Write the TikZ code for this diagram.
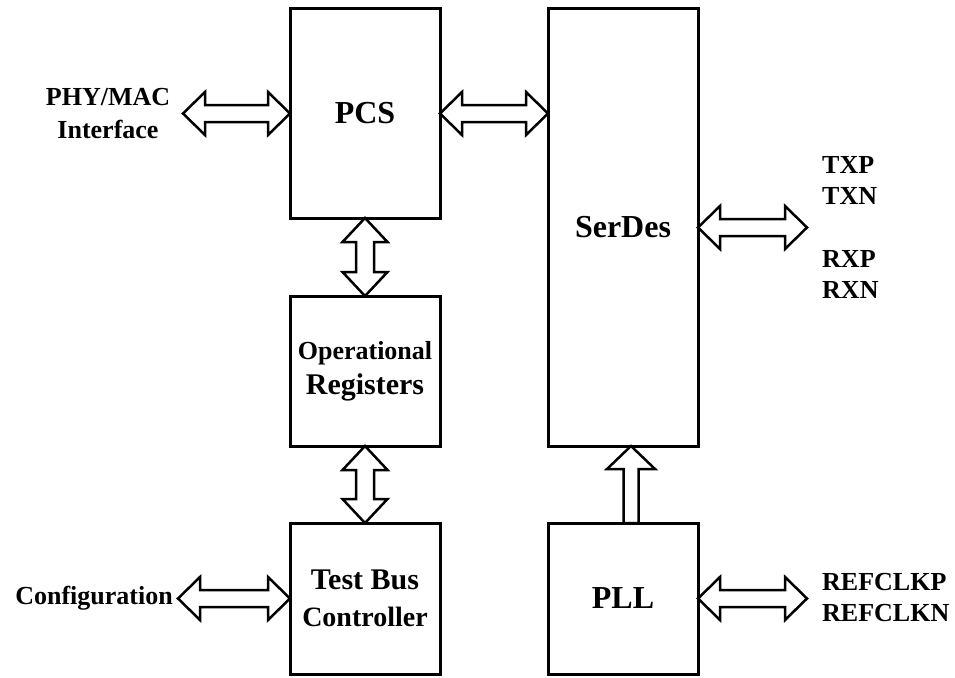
\documentclass[tikz,border=0pt]{standalone}
\usepackage{fontspec}
\setmainfont{Liberation Serif}
\usetikzlibrary{calc}
\pgfdeclarelayer{bg}
\pgfsetlayers{bg,main}
\newcommand{\fsz}[2]{\fontsize{#1}{#2}\selectfont}
% horizontal double block arrow: #1 left tip, #2 right tip
\newcommand{\harrow}[2]{%
  \draw[blockarr] let \p1=#1, \p2=#2 in
    (\x1,\y1) -- (\x1+22pt,\y1+21.5pt) -- (\x1+22pt,\y1+8.5pt) -- (\x2-22pt,\y1+8.5pt)
    -- (\x2-22pt,\y1+21.5pt) -- (\x2,\y1) -- (\x2-22pt,\y1-21.5pt) -- (\x2-22pt,\y1-8.5pt)
    -- (\x1+22pt,\y1-8.5pt) -- (\x1+22pt,\y1-21.5pt) -- cycle;}
% vertical double block arrow: #1 top tip, #2 bottom tip
\newcommand{\varrow}[2]{%
  \draw[blockarr] let \p1=#1, \p2=#2 in
    (\x1,\y1) -- (\x1+22.5pt,\y1-24pt) -- (\x1+9pt,\y1-24pt) -- (\x1+9pt,\y2+24pt)
    -- (\x1+22.5pt,\y2+24pt) -- (\x1,\y2) -- (\x1-22.5pt,\y2+24pt) -- (\x1-9pt,\y2+24pt)
    -- (\x1-9pt,\y1-24pt) -- (\x1-22.5pt,\y1-24pt) -- cycle;}
% single up block arrow: #1 bottom, #2 top tip
\newcommand{\uarrow}[2]{%
  \draw[blockarr] let \p1=#1, \p2=#2 in
    (\x2,\y2) -- (\x2+24pt,\y2-23pt) -- (\x2+7.5pt,\y2-23pt) -- (\x2+7.5pt,\y1)
    -- (\x2-7.5pt,\y1) -- (\x2-7.5pt,\y2-23pt) -- (\x2-24pt,\y2-23pt) -- cycle;}
\begin{document}
\begin{tikzpicture}[x=1pt,y=-1pt,
  box/.style={draw,line width=3pt,inner sep=0pt,outer sep=0pt,minimum width=150pt,align=center,font=\bfseries},
  blockarr/.style={draw,line width=2.5pt,fill=white,line join=miter},
  lbl/.style={inner sep=0pt,align=center,font=\bfseries\fsz{26}{31}}]
\begin{pgfonlayer}{bg}
\fill[white] (0,0) rectangle (955,677);
\end{pgfonlayer}
\useasboundingbox (0,0) rectangle (955,677);

\node[box,minimum height=209pt,font=\bfseries\fsz{32}{38}] (pcs) at (365,113.5) {PCS};
\node[box,minimum height=437pt,font=\bfseries\fsz{32}{38}] (serdes) at (623,227.5) {SerDes};
\node[box,minimum height=150pt,font=\bfseries\fsz{30}{35}] (opreg) at (365,371) {\fsz{26}{35}Operational\\Registers};
\node[box,minimum height=151pt,font=\bfseries\fsz{28}{37}] (tbc) at (365,598.5) {\fsz{30}{37}Test Bus\\Controller};
\node[box,minimum height=151pt,font=\bfseries\fsz{32}{38}] (pll) at (623,598.5) {PLL};

\coordinate (phyend) at (183,113.5);
\coordinate (cfgend) at (178,598.5);
\coordinate (txend) at (807,227.5);
\coordinate (refend) at (807,598.5);

\begin{pgfonlayer}{bg}
\harrow{(phyend)}{(pcs.west)}
\harrow{(pcs.east)}{(serdes.west |- pcs.east)}
\harrow{(serdes.east)}{(txend)}
\harrow{(cfgend)}{(tbc.west)}
\harrow{(pll.east)}{(refend)}
\varrow{(pcs.south)}{(opreg.north)}
\varrow{(opreg.south)}{(tbc.north)}
\uarrow{($(pll.north)+(8,0)$)}{($(serdes.south)+(8,0)$)}
\end{pgfonlayer}

\node[lbl,font=\bfseries\fsz{26}{33}] (phy) at (108,113.5) {PHY/MAC\\Interface};
\node[lbl,anchor=east] (cfg) at (173,598.5) {Configuration};
\node[lbl,anchor=west,align=left] (tx) at (822,180.5) {TXP\\TXN};
\node[lbl,anchor=west,align=left] (rx) at (822,274) {RXP\\RXN};
\node[lbl,anchor=west,align=left] (ref) at (822,598) {REFCLKP\\REFCLKN};
\end{tikzpicture}
\end{document}
